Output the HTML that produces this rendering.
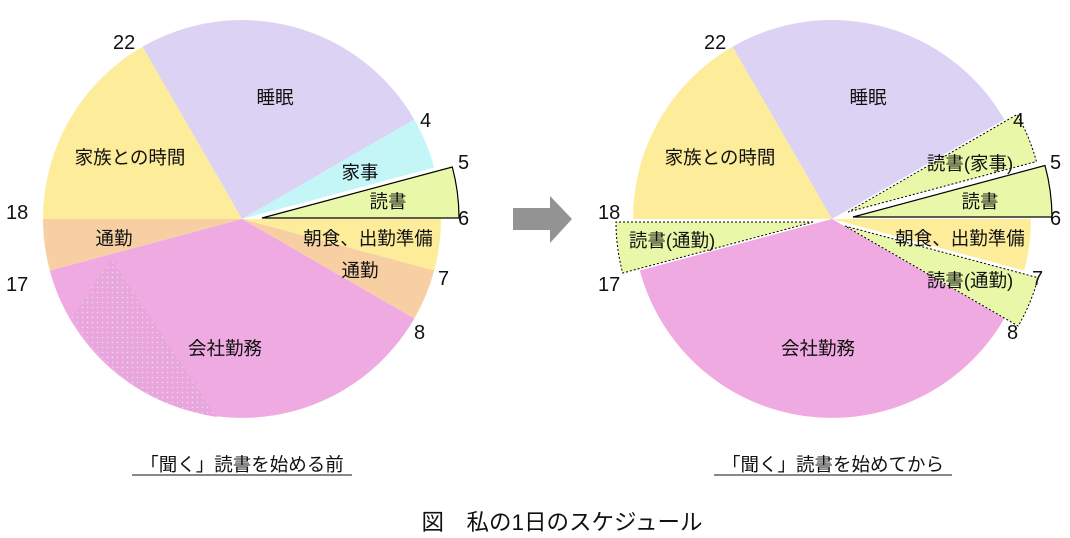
<!DOCTYPE html>
<html><head><meta charset="utf-8"><style>
html,body{margin:0;padding:0;background:#fff}
svg{display:block}
text{font-family:"Liberation Sans","Noto Sans CJK JP",sans-serif;fill:#111}
.l{font-size:18.5px;text-anchor:middle}
.n{font-size:20px}
.c{font-size:18.5px;text-anchor:middle}
</style></head><body>
<svg width="1070" height="538" viewBox="0 0 1070 538" xmlns="http://www.w3.org/2000/svg">
<defs>
<pattern id="dots" width="5" height="5" patternUnits="userSpaceOnUse">
<rect width="5" height="5" fill="#eaa6dc"/><circle cx="2.5" cy="2.5" r="0.7" fill="#d6e6f0"/>
</pattern>
</defs>
<!-- LEFT PIE -->
<g>
<path d="M242,219 L142.5,46.7 A199,199 0 0 1 414.3,119.5 Z" fill="#dcd3f4"/>
<path d="M242,219 L414.3,119.5 A199,199 0 0 1 434.2,167.5 Z" fill="#c4f5f7"/>
<path d="M242,219 L441,219 A199,199 0 0 1 434.2,270.5 Z" fill="#fdec9a"/>
<path d="M242,219 L434.2,270.5 A199,199 0 0 1 414.3,318.5 Z" fill="#f7cfa2"/>
<path d="M242,219 L414.3,318.5 A199,199 0 0 1 49.8,270.5 Z" fill="#f0aae2"/>
<path d="M242,219 L49.8,270.5 A199,199 0 0 1 43,219 Z" fill="#f7cfa2"/>
<path d="M242,219 L43,219 A199,199 0 0 1 142.5,46.7 Z" fill="#fdec9a"/>
<path d="M111,258 L72,317 A199,199 0 0 0 217,417 Z" fill="url(#dots)"/>
<path d="M262,218 L459,218 A197,197 0 0 0 452.3,167 Z" fill="#e8f8a8" stroke="#000" stroke-width="1.2"/>
</g>
<text class="l" x="275" y="104">睡眠</text>
<text class="l" x="360" y="179">家事</text>
<text class="l" x="388" y="208">読書</text>
<text class="l" x="368" y="245">朝食、出勤準備</text>
<text class="l" x="360" y="277">通勤</text>
<text class="l" x="114" y="245">通勤</text>
<text class="l" x="225" y="355">会社勤務</text>
<text class="l" x="130" y="164">家族との時間</text>
<text class="n" x="113" y="49">22</text>
<text class="n" x="420" y="127">4</text>
<text class="n" x="458" y="169">5</text>
<text class="n" x="458" y="225">6</text>
<text class="n" x="438" y="285">7</text>
<text class="n" x="414" y="339">8</text>
<text class="n" x="6" y="291">17</text>
<text class="n" x="6" y="219">18</text>
<!-- ARROW -->
<path d="M513,208 L550,208 L550,196 L572,219 L550,243 L550,230 L513,230 Z" fill="#939393"/>
<!-- RIGHT PIE -->
<g>
<path d="M832,219 L732.5,46.7 A199,199 0 0 1 1004.3,119.5 Z" fill="#dcd3f4"/>
<path d="M832,219 L1031,219 A199,199 0 0 1 1024.2,270.5 Z" fill="#fdec9a"/>
<path d="M832,219 L1004.3,318.5 A199,199 0 0 1 639.8,270.5 Z" fill="#f0aae2"/>
<path d="M832,219 L633,219 A199,199 0 0 1 732.5,46.7 Z" fill="#fdec9a"/>
<path d="M848,212 L1016.9,114.5 A195,195 0 0 1 1036.4,161.5 Z" fill="#e8f8a8" stroke="#000" stroke-width="1" stroke-dasharray="2,2"/>
<path d="M853,217 L1052,217 A199,199 0 0 0 1045,165.5 Z" fill="#e8f8a8" stroke="#000" stroke-width="1.2"/>
<path d="M845,226 L1038.2,277.8 A200,200 0 0 1 1018.2,326 Z" fill="#e8f8a8" stroke="#000" stroke-width="1" stroke-dasharray="2,2"/>
<path d="M813,222 L616,222 A197,197 0 0 0 622.7,273 Z" fill="#e8f8a8" stroke="#000" stroke-width="1" stroke-dasharray="2,2"/>
</g>
<text class="l" x="970" y="170">読書(家事)</text>
<text class="l" x="980" y="208">読書</text>
<text class="l" x="960" y="245">朝食、出勤準備</text>
<text class="l" x="970" y="287">読書(通勤)</text>
<text class="l" x="672" y="247">読書(通勤)</text>
<text class="l" x="818" y="355">会社勤務</text>
<text class="l" x="720" y="164">家族との時間</text>
<text class="l" x="868" y="104">睡眠</text>
<text class="n" x="704" y="49">22</text>
<text class="n" x="1013" y="127">4</text>
<text class="n" x="1050" y="169">5</text>
<text class="n" x="1050" y="225">6</text>
<text class="n" x="1032" y="285">7</text>
<text class="n" x="1007" y="339">8</text>
<text class="n" x="598" y="291">17</text>
<text class="n" x="598" y="219">18</text>
<!-- CAPTIONS -->
<text class="c" x="242" y="471">「聞く」読書を始める前</text>
<line x1="132" y1="475" x2="352" y2="475" stroke="#111" stroke-width="1"/>
<text class="c" x="833" y="471">「聞く」読書を始めてから</text>
<line x1="714" y1="475" x2="952" y2="475" stroke="#111" stroke-width="1"/>
<text x="562" y="530" style="font-size:22.5px;text-anchor:middle">図　私の1日のスケジュール</text>
</svg>
</body></html>
